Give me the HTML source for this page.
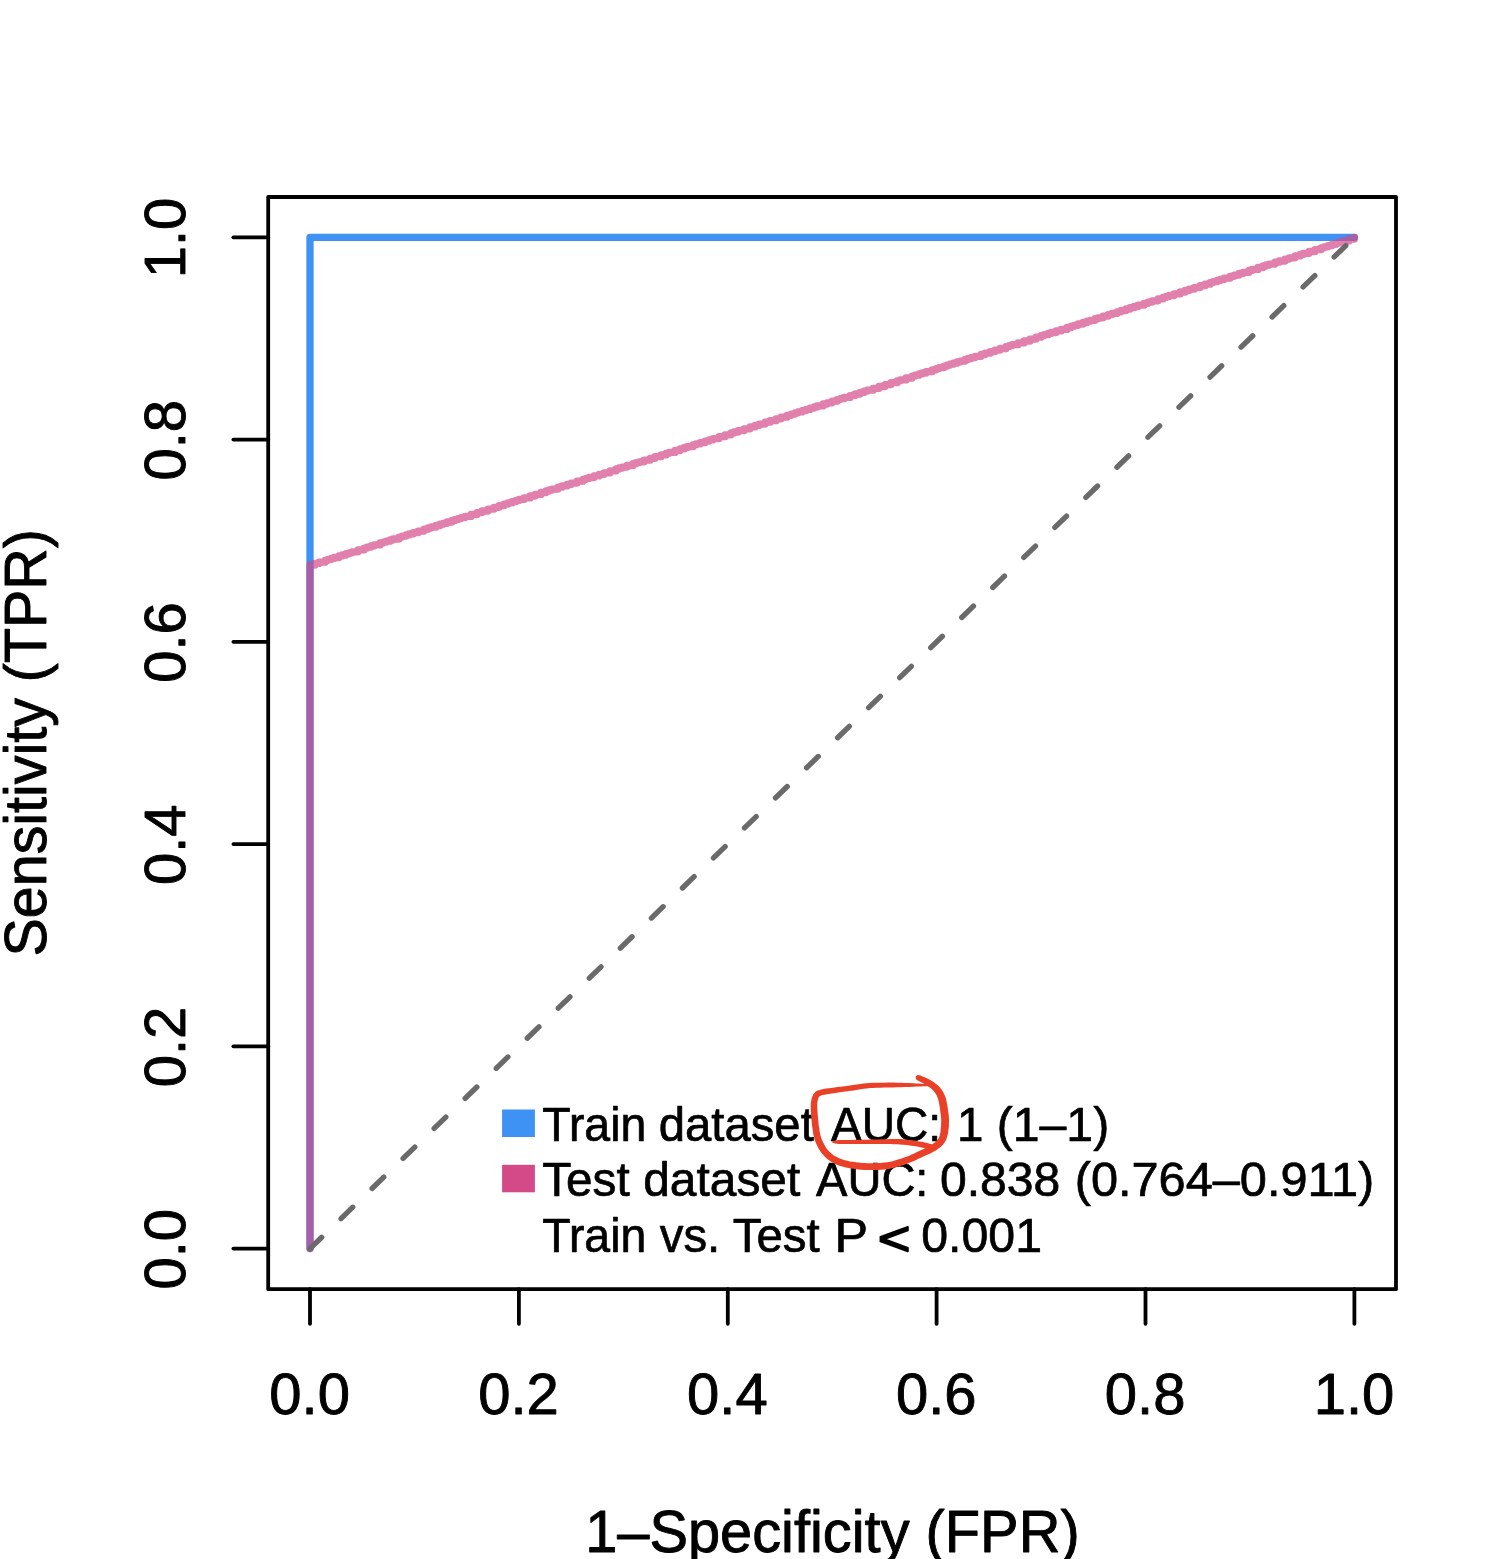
<!DOCTYPE html>
<html lang="en">
<head>
<meta charset="utf-8">
<title>ROC curve</title>
<style>
html,body{margin:0;padding:0;background:#fff;}
body{width:1500px;height:1559px;overflow:hidden;}
svg{display:block;}
text{font-family:"Liberation Sans",Arial,Helvetica,sans-serif;fill:#000;stroke:#000;stroke-linejoin:round;}
.tk{font-size:58px;text-anchor:middle;stroke-width:0.9;}
.ax{font-size:59px;text-anchor:middle;stroke-width:0.9;}
.lg{font-size:48.5px;stroke-width:0.7;}
</style>
</head>
<body>
<svg width="1500" height="1559" viewBox="0 0 1500 1559">
<rect x="0" y="0" width="1500" height="1559" fill="#ffffff"/>

<!-- train ROC curve -->
<polyline points="310.0,1248.6 310.0,237.3 1354.4,237.3" fill="none" stroke="#3e92f4" stroke-width="7.3" stroke-linecap="round" stroke-linejoin="round"/>
<!-- test ROC curve -->
<path d="M310.0,1248.6 V565.0 H315.0 V563.4 H319.0 V562.2 H325.0 V560.3 H328.0 V559.4 H331.0 V558.4 H334.0 V557.5 H339.0 V555.9 H342.0 V555.0 H346.0 V553.7 H349.0 V552.8 H352.0 V551.8 H358.0 V549.9 H364.0 V548.1 H367.0 V547.1 H371.0 V545.9 H374.0 V544.9 H380.0 V543.0 H383.0 V542.1 H386.0 V541.2 H390.0 V539.9 H393.0 V539.0 H399.0 V537.1 H402.0 V536.1 H406.0 V534.9 H409.0 V533.9 H413.0 V532.7 H418.0 V531.1 H424.0 V529.2 H428.0 V528.0 H431.0 V527.0 H436.0 V525.5 H440.0 V524.2 H443.0 V523.3 H447.0 V522.0 H452.0 V520.4 H455.0 V519.5 H458.0 V518.6 H461.0 V517.6 H465.0 V516.4 H471.0 V514.5 H477.0 V512.6 H482.0 V511.0 H488.0 V509.1 H494.0 V507.3 H499.0 V505.7 H504.0 V504.1 H508.0 V502.9 H512.0 V501.6 H516.0 V500.4 H519.0 V499.4 H524.0 V497.9 H530.0 V496.0 H535.0 V494.4 H541.0 V492.5 H546.0 V491.0 H549.0 V490.0 H552.0 V489.1 H558.0 V487.2 H562.0 V485.9 H567.0 V484.4 H571.0 V483.1 H577.0 V481.2 H583.0 V479.3 H586.0 V478.4 H589.0 V477.5 H594.0 V475.9 H599.0 V474.3 H604.0 V472.8 H610.0 V470.9 H616.0 V469.0 H619.0 V468.0 H622.0 V467.1 H627.0 V465.5 H633.0 V463.7 H636.0 V462.7 H639.0 V461.8 H644.0 V460.2 H650.0 V458.3 H655.0 V456.7 H661.0 V454.9 H666.0 V453.3 H669.0 V452.4 H675.0 V450.5 H680.0 V448.9 H684.0 V447.7 H687.0 V446.7 H693.0 V444.8 H696.0 V443.9 H700.0 V442.6 H705.0 V441.1 H709.0 V439.8 H713.0 V438.6 H719.0 V436.7 H725.0 V434.8 H731.0 V432.9 H734.0 V432.0 H738.0 V430.7 H744.0 V428.8 H750.0 V426.9 H755.0 V425.4 H759.0 V424.1 H765.0 V422.2 H770.0 V420.7 H776.0 V418.8 H781.0 V417.2 H787.0 V415.3 H791.0 V414.1 H795.0 V412.8 H798.0 V411.9 H802.0 V410.6 H806.0 V409.4 H810.0 V408.1 H814.0 V406.9 H817.0 V405.9 H823.0 V404.0 H827.0 V402.8 H832.0 V401.2 H837.0 V399.6 H840.0 V398.7 H844.0 V397.4 H850.0 V395.6 H855.0 V394.0 H860.0 V392.4 H864.0 V391.2 H867.0 V390.2 H873.0 V388.3 H879.0 V386.5 H885.0 V384.6 H891.0 V382.7 H897.0 V380.8 H900.0 V379.9 H906.0 V378.0 H912.0 V376.1 H915.0 V375.2 H919.0 V373.9 H922.0 V373.0 H926.0 V371.7 H932.0 V369.8 H936.0 V368.6 H939.0 V367.6 H944.0 V366.1 H947.0 V365.1 H950.0 V364.2 H953.0 V363.2 H957.0 V362.0 H960.0 V361.1 H965.0 V359.5 H968.0 V358.5 H971.0 V357.6 H975.0 V356.3 H981.0 V354.5 H985.0 V353.2 H990.0 V351.6 H995.0 V350.1 H1000.0 V348.5 H1006.0 V346.6 H1009.0 V345.7 H1012.0 V344.7 H1018.0 V342.9 H1024.0 V341.0 H1030.0 V339.1 H1036.0 V337.2 H1041.0 V335.6 H1044.0 V334.7 H1048.0 V333.4 H1051.0 V332.5 H1056.0 V330.9 H1061.0 V329.4 H1067.0 V327.5 H1071.0 V326.2 H1074.0 V325.3 H1078.0 V324.0 H1083.0 V322.5 H1087.0 V321.2 H1090.0 V320.3 H1095.0 V318.7 H1098.0 V317.8 H1103.0 V316.2 H1108.0 V314.6 H1112.0 V313.4 H1117.0 V311.8 H1121.0 V310.5 H1126.0 V309.0 H1130.0 V307.7 H1134.0 V306.5 H1138.0 V305.2 H1144.0 V303.3 H1148.0 V302.1 H1152.0 V300.8 H1158.0 V298.9 H1163.0 V297.4 H1166.0 V296.4 H1169.0 V295.5 H1174.0 V293.9 H1180.0 V292.0 H1185.0 V290.5 H1189.0 V289.2 H1194.0 V287.6 H1200.0 V285.7 H1205.0 V284.2 H1210.0 V282.6 H1213.0 V281.7 H1217.0 V280.4 H1220.0 V279.5 H1224.0 V278.2 H1230.0 V276.3 H1234.0 V275.1 H1239.0 V273.5 H1243.0 V272.3 H1249.0 V270.4 H1252.0 V269.4 H1258.0 V267.5 H1263.0 V266.0 H1266.0 V265.0 H1269.0 V264.1 H1275.0 V262.2 H1279.0 V261.0 H1285.0 V259.1 H1289.0 V257.8 H1295.0 V255.9 H1300.0 V254.4 H1303.0 V253.4 H1309.0 V251.5 H1315.0 V249.7 H1321.0 V247.8 H1324.0 V246.8 H1328.0 V245.6 H1332.0 V244.3 H1336.0 V243.1 H1339.0 V242.1 H1343.0 V240.9 H1349.0 V239.0 H1354.4 V237.3" fill="none" stroke="#d44a89" stroke-opacity="0.7" stroke-width="7.3" stroke-linecap="round" stroke-linejoin="round"/>
<!-- diagonal reference line -->
<line x1="310.0" y1="1248.6" x2="1354.4" y2="237.3" stroke="#6a6a6a" stroke-width="5.3" stroke-linecap="round" stroke-dasharray="16.3 26.9"/>
<!-- plot box -->
<rect x="268.2" y="197.0" width="1127.8" height="1092.2" fill="none" stroke="#000" stroke-linejoin="round" stroke-width="3.8"/>
<!-- axis ticks -->
<g stroke="#000" stroke-width="3.8" stroke-linecap="round">
<line x1="310.0" y1="1289.2" x2="310.0" y2="1323.8"/>
<line x1="518.9" y1="1289.2" x2="518.9" y2="1323.8"/>
<line x1="727.8" y1="1289.2" x2="727.8" y2="1323.8"/>
<line x1="936.6" y1="1289.2" x2="936.6" y2="1323.8"/>
<line x1="1145.5" y1="1289.2" x2="1145.5" y2="1323.8"/>
<line x1="1354.4" y1="1289.2" x2="1354.4" y2="1323.8"/>
<line x1="233.4" y1="1248.6" x2="268.2" y2="1248.6"/>
<line x1="233.4" y1="1046.3" x2="268.2" y2="1046.3"/>
<line x1="233.4" y1="844.1" x2="268.2" y2="844.1"/>
<line x1="233.4" y1="641.8" x2="268.2" y2="641.8"/>
<line x1="233.4" y1="439.6" x2="268.2" y2="439.6"/>
<line x1="233.4" y1="237.3" x2="268.2" y2="237.3"/>
</g>
<!-- x tick labels -->
<g class="tk">
<text id="xt0" x="309.6" y="1413.8">0.0</text>
<text id="xt1" x="518.5" y="1413.8">0.2</text>
<text id="xt2" x="727.4" y="1413.8">0.4</text>
<text id="xt3" x="936.2" y="1413.8">0.6</text>
<text id="xt4" x="1145.1" y="1413.8">0.8</text>
<text id="xt5" x="1354.0" y="1413.8">1.0</text>
</g>
<!-- y tick labels -->
<g class="tk">
<text id="yt0" transform="translate(184.5,1249.3) rotate(-90)">0.0</text>
<text id="yt1" transform="translate(184.5,1047.0) rotate(-90)">0.2</text>
<text id="yt2" transform="translate(184.5,844.8) rotate(-90)">0.4</text>
<text id="yt3" transform="translate(184.5,642.5) rotate(-90)">0.6</text>
<text id="yt4" transform="translate(184.5,440.3) rotate(-90)">0.8</text>
<text id="yt5" transform="translate(184.5,238.0) rotate(-90)">1.0</text>
</g>
<!-- axis titles -->
<text id="xlab" class="ax" style="font-size:58.3px" x="832.4" y="1552.3" textLength="494.50" lengthAdjust="spacingAndGlyphs">1–Specificity (FPR)</text>
<text id="ylab" class="ax" transform="translate(45.9,742.8) rotate(-90)" textLength="427.25" lengthAdjust="spacingAndGlyphs">Sensitivity (TPR)</text>
<!-- legend -->
<rect x="502.1" y="1109.5" width="32.8" height="27.5" fill="#3e92f4"/>
<rect x="502.1" y="1164.8" width="32.8" height="27.5" fill="#d44a89"/>
<g class="lg">
<text y="1140.7"><tspan id="l1a" x="542.26" textLength="104.01" lengthAdjust="spacingAndGlyphs" y="1140.7">Train</tspan> <tspan id="l1b" x="658.66" textLength="155.12" lengthAdjust="spacingAndGlyphs" y="1140.7">dataset</tspan> <tspan id="l1c" x="831.02" textLength="110.15" lengthAdjust="spacingAndGlyphs" y="1140.7">AUC:</tspan> <tspan id="l1d" x="956.90" textLength="26.46" lengthAdjust="spacingAndGlyphs" y="1140.7">1</tspan> <tspan id="l1e" x="996.72" textLength="112.50" lengthAdjust="spacingAndGlyphs" y="1140.7">(1–1)</tspan></text>
<text y="1196.2"><tspan id="l2a" x="542.22" textLength="87.53" lengthAdjust="spacingAndGlyphs" y="1196.2">Test</tspan> <tspan id="l2b" x="643.23" textLength="157.06" lengthAdjust="spacingAndGlyphs" y="1196.2">dataset</tspan> <tspan id="l2c" x="816.01" textLength="112.44" lengthAdjust="spacingAndGlyphs" y="1196.2">AUC:</tspan> <tspan id="l2d" x="940.02" textLength="120.34" lengthAdjust="spacingAndGlyphs" y="1196.2">0.838</tspan> <tspan id="l2e" x="1074.69" textLength="299.65" lengthAdjust="spacingAndGlyphs" y="1196.2">(0.764–0.911)</tspan></text>
<text y="1251.7"><tspan id="l3a" x="542.26" textLength="104.01" lengthAdjust="spacingAndGlyphs" y="1251.7">Train</tspan> <tspan id="l3b" x="659.71" textLength="60.58" lengthAdjust="spacingAndGlyphs" y="1251.7">vs.</tspan> <tspan id="l3c" x="732.73" textLength="86.92" lengthAdjust="spacingAndGlyphs" y="1251.7">Test</tspan> <tspan id="l3d" x="834.47" textLength="32.62" lengthAdjust="spacingAndGlyphs" y="1251.7">P</tspan> <tspan id="l3e" x="877.73" textLength="32.83" lengthAdjust="spacingAndGlyphs" style="stroke-width:1.7" y="1255.0">&lt;</tspan> <tspan id="l3f" x="921.20" textLength="120.79" lengthAdjust="spacingAndGlyphs" y="1251.7">0.001</tspan></text>
</g>
<!-- hand-drawn red annotation -->
<g fill="#ea4028" stroke="none">
<path d="M917.2,1080.2 L918.2,1080.7 L919.2,1081.3 L920.2,1081.8 L921.2,1082.3 L922.2,1082.8 L923.1,1083.3 L924.0,1083.8 L925.1,1084.4 L926.6,1085.3 L928.2,1086.4 L929.8,1087.5 L931.2,1088.6 L932.4,1089.8 L933.7,1091.1 L934.8,1092.4 L935.7,1093.7 L936.5,1095.0 L937.1,1096.5 L937.7,1098.0 L938.2,1099.5 L938.6,1100.9 L939.0,1102.4 L939.2,1104.0 L939.5,1105.7 L939.8,1107.3 L940.0,1108.9 L940.2,1110.6 L940.4,1112.2 L940.6,1113.8 L940.8,1115.3 L941.0,1116.7 L941.1,1118.2 L941.2,1119.9 L941.2,1121.7 L941.1,1123.4 L941.1,1124.9 L941.1,1125.8 L941.0,1126.3 L940.9,1126.9 L940.8,1127.9 L940.7,1129.1 L940.6,1130.4 L940.5,1131.7 L940.3,1132.9 L940.0,1134.3 L939.7,1135.6 L939.3,1136.8 L938.8,1137.9 L938.1,1138.9 L937.3,1140.0 L936.2,1141.1 L935.0,1142.2 L933.6,1143.3 L932.1,1144.4 L930.3,1145.5 L928.4,1146.6 L926.2,1147.7 L923.8,1148.9 L921.2,1150.0 L918.6,1151.2 L916.0,1152.4 L913.5,1153.7 L911.1,1154.8 L908.7,1155.9 L906.3,1156.8 L904.0,1157.6 L901.6,1158.4 L899.0,1159.3 L896.2,1160.1 L893.4,1160.9 L890.5,1161.7 L887.5,1162.2 L884.1,1162.6 L880.4,1162.9 L876.7,1163.1 L873.2,1163.2 L870.2,1163.2 L867.4,1163.2 L864.8,1163.1 L862.0,1162.9 L858.9,1162.6 L855.8,1162.3 L852.8,1161.8 L849.9,1161.4 L847.3,1160.8 L844.9,1160.2 L842.6,1159.6 L840.5,1158.8 L838.6,1158.0 L836.8,1157.1 L835.2,1156.2 L833.6,1155.2 L832.2,1154.2 L830.9,1153.1 L829.7,1151.9 L828.5,1150.7 L827.4,1149.5 L826.5,1148.2 L825.6,1146.9 L824.7,1145.3 L823.7,1143.5 L822.7,1141.5 L821.8,1139.4 L821.0,1137.3 L820.4,1135.1 L820.0,1132.9 L819.5,1130.5 L819.1,1127.8 L818.7,1125.0 L818.4,1121.9 L818.1,1118.7 L817.8,1115.7 L817.6,1112.8 L817.4,1110.0 L817.3,1107.3 L817.2,1105.1 L817.3,1103.2 L817.5,1101.7 L817.7,1100.4 L818.0,1099.2 L818.3,1098.2 L818.6,1097.5 L818.9,1097.0 L819.3,1096.5 L819.7,1096.2 L820.2,1095.9 L821.1,1095.5 L822.6,1095.1 L824.7,1094.7 L827.1,1094.3 L830.1,1093.8 L833.7,1093.3 L838.2,1092.6 L843.5,1091.8 L848.9,1091.1 L853.7,1090.4 L857.5,1089.8 L860.8,1089.2 L863.8,1088.8 L866.9,1088.4 L870.1,1088.1 L873.2,1087.9 L876.5,1087.8 L880.1,1087.7 L884.0,1087.6 L888.2,1087.5 L892.5,1087.4 L896.7,1087.3 L901.0,1087.2 L905.4,1087.0 L909.6,1086.9 L913.3,1086.7 L916.4,1086.6 L919.0,1086.5 L921.2,1086.4 L923.3,1086.3 L925.0,1086.3 L926.4,1086.3 L927.6,1086.2 L929.0,1086.2 L929.4,1086.1 L929.8,1085.8 L929.9,1085.3 L929.8,1084.9 L929.5,1084.5 L929.0,1084.4 L927.7,1084.3 L926.5,1084.1 L925.1,1084.0 L923.3,1083.9 L921.3,1083.7 L919.0,1083.6 L916.4,1083.4 L913.3,1083.3 L909.6,1083.1 L905.4,1082.9 L901.0,1082.8 L896.7,1082.7 L892.4,1082.6 L888.1,1082.6 L883.9,1082.7 L879.9,1082.7 L876.4,1082.8 L873.0,1082.8 L869.8,1083.0 L866.5,1083.2 L863.2,1083.6 L860.0,1084.0 L856.7,1084.5 L852.9,1085.0 L848.2,1085.7 L842.8,1086.4 L837.5,1087.1 L832.9,1087.7 L829.3,1088.2 L826.3,1088.6 L823.6,1089.0 L821.4,1089.5 L819.5,1089.9 L817.9,1090.5 L816.6,1091.1 L815.3,1092.1 L814.2,1093.2 L813.2,1094.5 L812.5,1095.9 L812.0,1097.4 L811.5,1099.0 L811.2,1100.7 L810.9,1102.7 L810.8,1104.9 L810.7,1107.5 L810.8,1110.3 L811.0,1113.3 L811.2,1116.3 L811.5,1119.3 L811.7,1122.6 L812.1,1125.8 L812.5,1128.8 L812.9,1131.5 L813.3,1134.2 L813.9,1136.7 L814.6,1139.3 L815.5,1141.9 L816.5,1144.3 L817.6,1146.6 L818.7,1148.7 L819.8,1150.5 L821.0,1152.2 L822.2,1153.8 L823.5,1155.3 L824.9,1156.8 L826.4,1158.2 L828.0,1159.5 L829.8,1160.8 L831.6,1162.0 L833.6,1163.1 L835.8,1164.2 L838.1,1165.2 L840.5,1166.0 L843.1,1166.8 L845.8,1167.4 L848.7,1168.0 L851.7,1168.6 L855.0,1169.0 L858.3,1169.4 L861.4,1169.7 L864.4,1169.9 L867.3,1170.0 L870.2,1170.0 L873.4,1170.0 L877.0,1169.9 L880.8,1169.7 L884.8,1169.4 L888.5,1169.0 L892.0,1168.3 L895.2,1167.5 L898.2,1166.6 L901.0,1165.7 L903.7,1164.9 L906.2,1164.1 L908.8,1163.1 L911.3,1162.1 L913.9,1161.0 L916.5,1159.8 L919.0,1158.6 L921.4,1157.4 L924.0,1156.3 L926.6,1155.1 L929.2,1154.0 L931.6,1152.8 L933.8,1151.6 L935.9,1150.4 L937.8,1149.1 L939.6,1147.8 L941.2,1146.4 L942.7,1144.9 L944.0,1143.3 L945.2,1141.5 L946.2,1139.7 L946.8,1137.8 L947.3,1136.1 L947.7,1134.5 L948.1,1132.9 L948.3,1131.3 L948.4,1129.9 L948.6,1128.7 L948.7,1127.9 L948.8,1127.2 L948.9,1126.3 L948.9,1125.1 L948.9,1123.6 L949.0,1121.7 L949.0,1119.7 L948.9,1117.8 L948.8,1116.0 L948.6,1114.4 L948.4,1112.8 L948.2,1111.2 L947.9,1109.5 L947.7,1107.8 L947.4,1106.1 L947.1,1104.3 L946.8,1102.6 L946.4,1100.9 L946.0,1099.0 L945.4,1097.1 L944.7,1095.3 L943.8,1093.4 L942.9,1091.5 L941.7,1089.7 L940.3,1087.9 L938.8,1086.3 L937.1,1084.8 L935.4,1083.4 L933.6,1082.0 L931.7,1080.9 L929.9,1079.8 L928.3,1079.0 L926.9,1078.3 L925.8,1077.7 L924.8,1077.3 L923.8,1076.9 L922.7,1076.4 L921.6,1076.0 L920.5,1075.6 L919.4,1075.2 L918.0,1075.0 L916.7,1075.5 L915.8,1076.6 L915.6,1078.0 L916.1,1079.3Z"/>
<path d="M833.3,1143.0 L834.1,1143.2 L834.8,1143.4 L835.7,1143.6 L837.0,1143.8 L838.8,1143.9 L840.8,1144.0 L843.4,1144.0 L846.7,1144.0 L851.0,1144.0 L856.1,1144.0 L861.5,1144.0 L866.7,1143.9 L871.9,1143.9 L877.1,1143.9 L882.2,1144.0 L886.7,1144.0 L890.5,1144.1 L893.7,1144.2 L896.7,1144.3 L899.8,1144.5 L903.2,1144.8 L906.6,1145.1 L909.9,1145.5 L912.9,1145.9 L915.6,1146.3 L918.2,1146.8 L920.5,1147.2 L922.7,1147.7 L924.7,1148.2 L926.6,1148.6 L928.4,1149.1 L930.3,1149.7 L931.7,1149.7 L932.9,1148.9 L933.7,1147.7 L933.7,1146.3 L932.9,1145.1 L931.7,1144.3 L929.9,1143.8 L928.0,1143.3 L926.0,1142.8 L923.9,1142.3 L921.6,1141.8 L919.1,1141.4 L916.5,1140.9 L913.7,1140.5 L910.5,1140.1 L907.2,1139.7 L903.6,1139.3 L900.2,1139.1 L896.9,1139.0 L893.8,1139.0 L890.5,1139.1 L886.7,1139.2 L882.2,1139.3 L877.1,1139.4 L871.8,1139.5 L866.7,1139.7 L861.4,1139.7 L856.0,1139.8 L851.0,1139.9 L846.7,1140.0 L843.4,1140.0 L840.8,1140.1 L838.8,1140.1 L837.0,1140.2 L835.7,1140.4 L834.8,1140.6 L834.1,1140.8 L833.3,1141.0 L832.8,1141.1 L832.4,1141.5 L832.3,1142.0 L832.4,1142.5 L832.8,1142.9Z"/>
</g>
</svg>
</body>
</html>
